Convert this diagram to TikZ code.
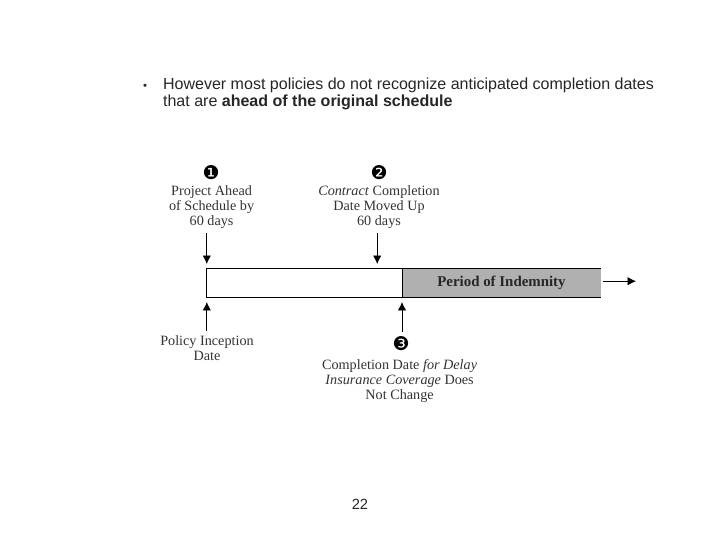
\documentclass[tikz,border=0pt]{standalone}
\usepackage{fontspec}
\setmainfont{Liberation Serif}
\newfontfamily\slidefont{Liberation Sans}
\newfontfamily\markfont{DejaVu Sans}
\usetikzlibrary{positioning}
\usetikzlibrary{arrows.meta}
\tikzset{
    slidetext/.style = {inner sep=0pt,align=left,text=black!85,font=\slidefont\fontsize{11.4}{11.6}\selectfont},
    pagenum/.style = {inner sep=0pt,text=black!85,font=\slidefont\fontsize{10.5}{12}\selectfont},
    tag/.style = {inner sep=0pt,align=center,text=black!80,font=\fontsize{10.1}{10.7}\selectfont},
    marker/.style = {inner sep=0pt,font=\markfont\fontsize{13.5}{14}\selectfont},
    blankbar/.style = {rectangle,semithick,draw=black,fill=white,minimum width=4.9cm,minimum height=0.73cm,inner sep=0pt,outer sep=0pt},
    greybar/.style = {rectangle,fill=black!31,minimum width=4.975cm,minimum height=0.73cm,inner sep=0pt,outer sep=0pt,font=\bfseries\fontsize{10.6}{11}\selectfont,text=black!85},
    edgen/.style = {-{Latex[length=6pt,width=6pt]},semithick},
}

\begin{document}
\begin{tikzpicture}
\useasboundingbox (0,0) rectangle (18,13.5);
%
\node[slidetext,anchor=center,font=\slidefont\fontsize{8}{9}\selectfont] at (3.63, 11.32) (bullet) {•};
\node[slidetext,anchor=north west] at (4.07, 11.55) (intro) {However most policies do not recognize anticipated completion dates\\that are \textbf{ahead of the original schedule}};
\node[pagenum] at (9, 0.9) (page) {22};
%
\node[blankbar,anchor=north west] at (5.15, 6.8) (blank) {};
\node[greybar,right=0pt of blank] (period) {Period of Indemnity};
\draw[semithick] (period.north east) -- (period.north west) -- (period.south west) -- (period.south east);
%
\node[marker] at (5.28, 9.18) (mark1) {❶};
\node[tag] at (5.29, 8.325) (lab1) {Project Ahead\\of Schedule by\\60 days};
\node[marker] at (9.48, 9.18) (mark2) {❷};
\node[tag] at (9.475, 8.325) (lab2) {\textit{Contract} Completion\\Date Moved Up\\60 days};
\node[tag] at (5.175, 4.8) (lab4) {Policy Inception\\Date};
\node[marker] at (10.03, 4.9) (mark3) {❸};
\node[tag] at (9.99, 3.975) (lab3) {Completion Date \textit{for Delay}\\\textit{Insurance Coverage} Does\\Not Change};
%
\coordinate (tip1) at (5.17, 6.9);
\coordinate (tip2) at (9.43, 6.9);
\coordinate (tip3) at (5.17, 5.95);
\coordinate (tip4) at (10.05, 5.95);
\coordinate (tail1) at (5.17, 7.68);
\coordinate (tail2) at (9.43, 7.68);
\coordinate (tail3) at (5.17, 5.22);
\coordinate (tail4) at (10.05, 5.2);
\coordinate (tail5) at (15.08, 6.47);
\coordinate (tip5) at (15.9, 6.47);
%
\draw[edgen] (tail1) -- (tip1);
\draw[edgen] (tail2) -- (tip2);
\draw[edgen] (tail3) -- (tip3);
\draw[edgen] (tail4) -- (tip4);
\draw[edgen] (tail5) -- (tip5);

\end{tikzpicture}
\end{document}
